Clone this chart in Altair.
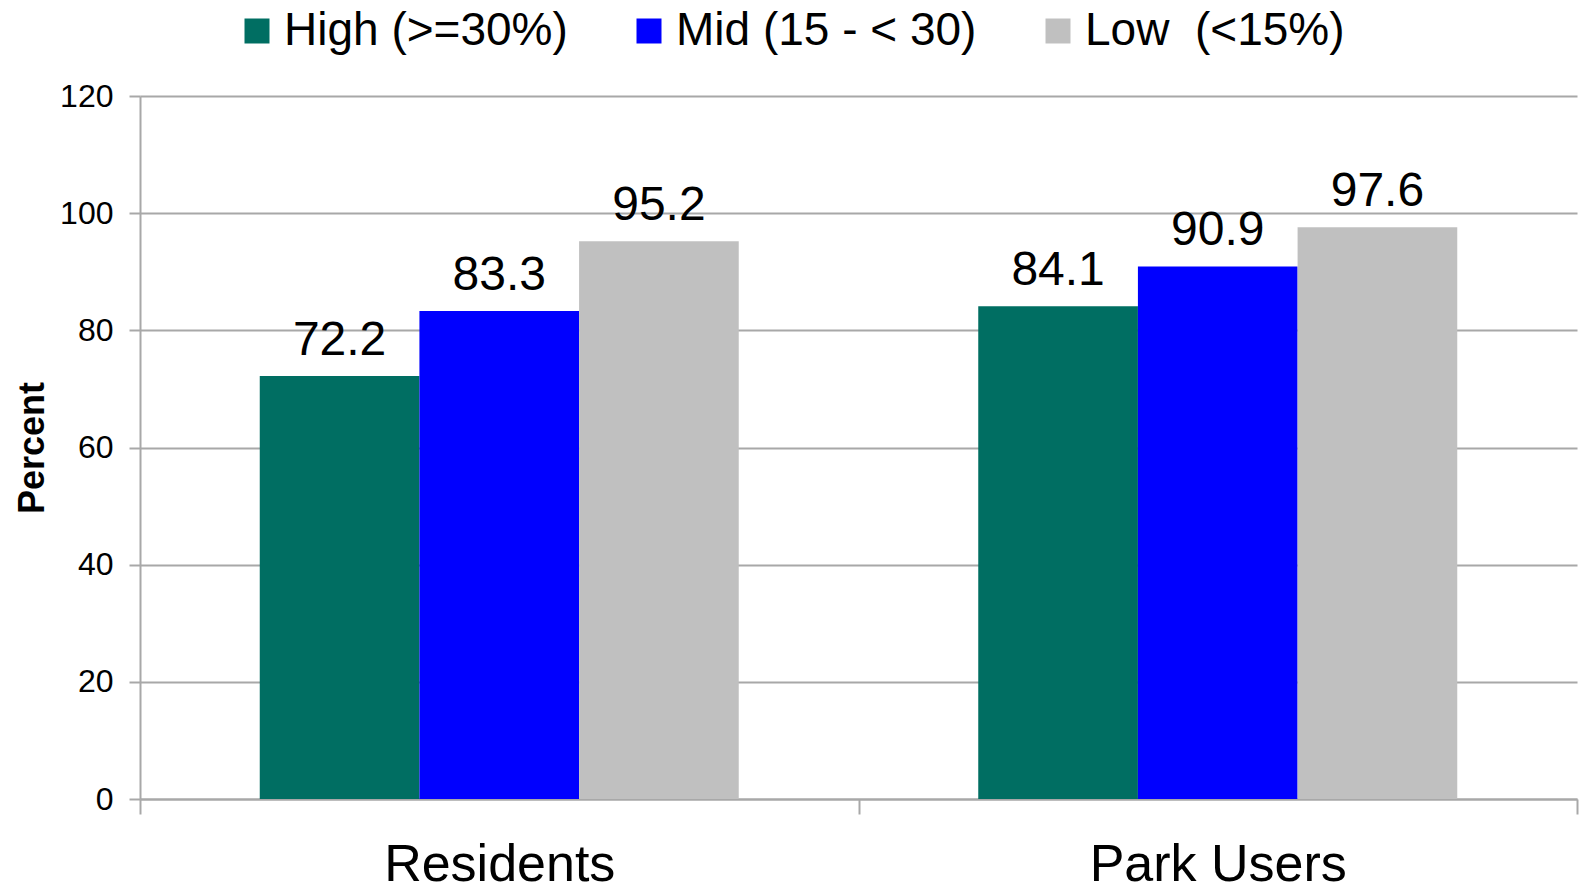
import altair as alt
import pandas as pd

# Share of respondents (percent) by group and income level
groups = ["Residents", "Park Users"]
levels = ["High (>=30%)", "Mid (15 - < 30)", "Low \u00a0(<15%)"]
residents = [72.2, 83.3, 95.2]
park_users = [84.1, 90.9, 97.6]
level_colors = ["#006E62", "#0000FF", "#C0C0C0"]
y_ticks = [0, 20, 40, 60, 80, 100, 120]

rows = []
for g, vals in zip(groups, [residents, park_users]):
    for lvl, v in zip(levels, vals):
        rows.append({"group": g, "level": lvl, "value": v})
df = pd.DataFrame(rows)

FONT = "Liberation Sans"
GRID = "#A8A8A8"

x_enc = alt.X(
    "group:N",
    sort=groups,
    title=None,
    scale=alt.Scale(paddingInner=0, paddingOuter=0),
    axis=alt.Axis(
        tickBand="extent",
        labelAngle=0,
        labelFont=FONT,
        labelFontSize=52,
        labelColor="#000000",
        labelBaseline="alphabetic",
        labelPadding=66,
        labelLimit=1000,
        tickSize=15,
        tickWidth=2,
        tickColor=GRID,
        domainColor=GRID,
        domainWidth=2,
        grid=False,
    ),
)
xoff_enc = alt.XOffset(
    "level:N", sort=levels, scale=alt.Scale(paddingInner=0, paddingOuter=0.75)
)
y_enc = alt.Y(
    "value:Q",
    scale=alt.Scale(domain=[0, 120], nice=False),
    axis=alt.Axis(
        values=y_ticks,
        title="Percent",
        titleFont=FONT,
        titleFontSize=36,
        titleFontWeight="bold",
        titleColor="#000000",
        titleAngle=-90,
        titleAlign="center",
        titleBaseline="alphabetic",
        titleX=-97,
        titleY=351.5,
        labelFont=FONT,
        labelFontSize=32,
        labelColor="#000000",
        labelPadding=16,
        tickSize=11,
        tickWidth=2,
        tickColor=GRID,
        domainColor=GRID,
        domainWidth=2,
        grid=True,
        gridColor=GRID,
        gridWidth=2,
    ),
)

bars = alt.Chart(df).mark_bar(opacity=1).encode(
    x=x_enc,
    xOffset=xoff_enc,
    y=y_enc,
    color=alt.Color(
        "level:N",
        sort=levels,
        scale=alt.Scale(domain=levels, range=level_colors),
        legend=alt.Legend(
            title=None,
            orient="none",
            legendX=94,
            legendY=-88,
            direction="horizontal",
            symbolType="square",
            symbolSize=625,
            symbolStrokeWidth=0,
            symbolOpacity=1,
            labelFont=FONT,
            labelFontSize=46,
            labelColor="#000000",
            labelOffset=4,
            labelLimit=800,
            columnPadding=58,
            padding=0,
        ),
    ),
)

labels = alt.Chart(df).mark_text(
    font=FONT, fontSize=48, color="#000000", baseline="alphabetic", dy=-21
).encode(
    x=alt.X("group:N", sort=groups),
    xOffset=alt.XOffset("level:N", sort=levels),
    y=alt.Y("value:Q"),
    text=alt.Text("value:Q", format=".1f"),
)

chart = (
    alt.layer(bars, labels)
    .properties(
        width=1437,
        height=703,
        autosize=alt.AutoSizeParams(type="none"),
        padding={"left": 140, "top": 96, "right": 2, "bottom": 86},
        background="#FFFFFF",
    )
    .configure_view(stroke=None)
)

chart.save("out.html", embed_options={"renderer": "svg", "actions": False})
